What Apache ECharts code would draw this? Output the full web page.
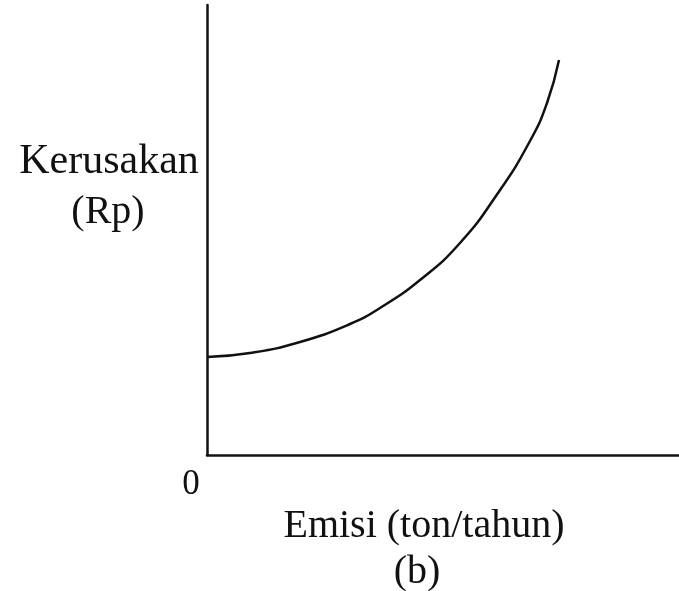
<!DOCTYPE html>
<html>
<head>
<meta charset="utf-8">
<script src="https://cdn.jsdelivr.net/npm/echarts@6/dist/echarts.min.js"></script>
<style>
  html, body { margin: 0; padding: 0; background: #fff; }
  #chart { width: 679px; height: 591px; }
</style>
</head>
<body>
<div id="chart"></div>
<script>
// emisi (x) dan kerusakan (y)
const emisi = [0, 43, 93, 143, 173, 213, 253, 291, 323, 340, 352];
const kerusakan = [98, 102, 113, 131, 147, 175, 212, 262, 314, 352, 395];
const xLabel = "Emisi (ton/tahun)";
const yLabel = ["Kerusakan", "(Rp)"];
const subLabel = "(b)";
const originLabel = "0";

const chart = echarts.init(document.getElementById("chart"));
const font = "'Liberation Serif', 'Times New Roman', serif";
const axisLine = { show: true, lineStyle: { color: "#111", width: 2.5 } };

const option = {
  animation: false,
  grid: { left: 207, right: 0, top: 5, bottom: 136 },
  xAxis: {
    type: "value",
    min: 0,
    max: 472,
    axisLine: axisLine,
    axisTick: { show: false },
    axisLabel: { show: false },
    splitLine: { show: false },
  },
  yAxis: {
    type: "value",
    min: 0,
    max: 450,
    axisLine: axisLine,
    axisTick: { show: false },
    axisLabel: { show: false },
    splitLine: { show: false },
  },
  series: [
    {
      type: "line",
      data: emisi.map((x, i) => [x, kerusakan[i]]),
      smooth: true,
      symbol: "none",
      lineStyle: { color: "#111", width: 2.5 },
    },
  ],
  graphic: [
    { type: "text", x: 109, y: 162, style: { text: yLabel[0], font: "42px " + font, fill: "#111", align: "center", verticalAlign: "middle" } },
    { type: "text", x: 108, y: 212, style: { text: yLabel[1], font: "40px " + font, fill: "#111", align: "center", verticalAlign: "middle" } },
    { type: "text", x: 191, y: 485, style: { text: originLabel, font: "35px " + font, fill: "#111", align: "center", verticalAlign: "middle" } },
    { type: "text", x: 424, y: 526, style: { text: xLabel, font: "40px " + font, fill: "#111", align: "center", verticalAlign: "middle" } },
    { type: "text", x: 417, y: 572, style: { text: subLabel, font: "40px " + font, fill: "#111", align: "center", verticalAlign: "middle" } },
  ],
};
chart.setOption(option);
</script>
</body>
</html>
